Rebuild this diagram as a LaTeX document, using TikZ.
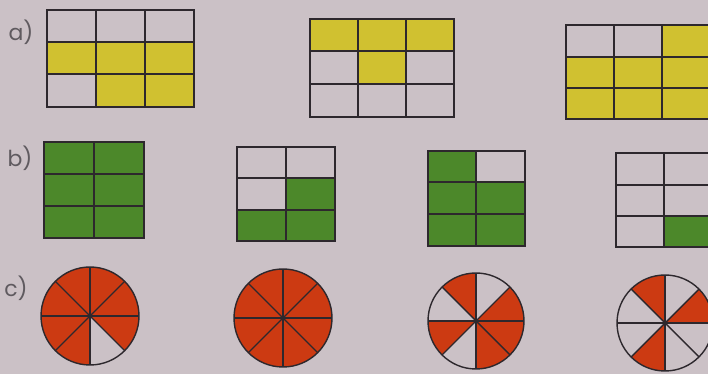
\documentclass[tikz,border=0pt]{standalone}
\usepackage{fontspec}
\setmainfont{Poppins}
\usepackage{tikz}
\usetikzlibrary{positioning}

\definecolor{paper}{RGB}{203,193,198}
\definecolor{ink}{RGB}{45,40,45}
\definecolor{labelgray}{RGB}{95,90,95}
\definecolor{yel}{RGB}{208,193,48}
\definecolor{grn}{RGB}{76,136,42}
\definecolor{orng}{RGB}{204,58,18}

\tikzset{
  gridline/.style={draw=ink, line width=1.8pt},
  yelcell/.style={fill=yel},
  grncell/.style={fill=grn},
  redslice/.style={fill=orng},
  partlabel/.style={text=labelgray, font=\fontsize{22}{24}\selectfont, inner sep=0pt}
}

\begin{document}
\begin{tikzpicture}[x=1pt, y=1pt]

\fill[paper] (0,0) rectangle (708,374);
\useasboundingbox (0,0) rectangle (708,374);
\clip (0,0) rectangle (708,374);

\node[partlabel] (lbla) at (21,342) {a)};
\node[partlabel] (lblb) at (20,216) {b)};
\node[partlabel] (lblc) at (16,86) {c)};

% a) yellow grids
\fill[yelcell] (47,300) rectangle (194,332);
\fill[yelcell] (96,267) rectangle (194,300);
\draw[gridline] (47,267) rectangle (194,364);
\draw[gridline] (96,267) -- (96,364) (145,267) -- (145,364)
                (47,300) -- (194,300) (47,332) -- (194,332);

\fill[yelcell] (310,323) rectangle (454,355);
\fill[yelcell] (358,290) rectangle (406,323);
\draw[gridline] (310,257) rectangle (454,355);
\draw[gridline] (358,257) -- (358,355) (406,257) -- (406,355)
                (310,290) -- (454,290) (310,323) -- (454,323);

\fill[yelcell] (662,317) rectangle (712,349);
\fill[yelcell] (566,255) rectangle (712,317);
\draw[gridline] (566,255) rectangle (712,349);
\draw[gridline] (614,255) -- (614,349) (662,255) -- (662,349)
                (566,286) -- (712,286) (566,317) -- (712,317);

% b) green grids
\fill[grncell] (44,136) rectangle (144,232);
\draw[gridline] (44,136) rectangle (144,232);
\draw[gridline] (94,136) -- (94,232)
                (44,168) -- (144,168) (44,200) -- (144,200);

\fill[grncell] (286,164) rectangle (335,196);
\fill[grncell] (237,133) rectangle (335,164);
\draw[gridline] (237,133) rectangle (335,227);
\draw[gridline] (286,133) -- (286,227)
                (237,164) -- (335,164) (237,196) -- (335,196);

\fill[grncell] (428,128) rectangle (476,223);
\fill[grncell] (476,128) rectangle (525,192);
\draw[gridline] (428,128) rectangle (525,223);
\draw[gridline] (476,128) -- (476,223)
                (428,160) -- (525,160) (428,192) -- (525,192);

\fill[grncell] (664,127) rectangle (713,158);
\draw[gridline] (616,127) rectangle (713,221);
\draw[gridline] (664,127) -- (664,221)
                (616,158) -- (713,158) (616,189) -- (713,189);

% c) circles
\coordinate (ca) at (90,58);
\coordinate (cb) at (283,56);
\coordinate (cc) at (476,53);
\coordinate (cd) at (665,51);

\foreach \a in {0,45,90,135,180,225,315}
  \fill[redslice] (ca) -- ++(\a:49) arc[start angle=\a, delta angle=45, radius=49] -- cycle;
\foreach \a in {0,45,...,315}
  \fill[redslice] (cb) -- ++(\a:49) arc[start angle=\a, delta angle=45, radius=49] -- cycle;
\foreach \a in {0,90,180,270,315}
  \fill[redslice] (cc) -- ++(\a:48) arc[start angle=\a, delta angle=45, radius=48] -- cycle;
\foreach \a in {0,90,225}
  \fill[redslice] (cd) -- ++(\a:48) arc[start angle=\a, delta angle=45, radius=48] -- cycle;

\foreach \c/\r in {ca/49, cb/49, cc/48, cd/48} {
  \draw[gridline, line width=1.4pt] (\c) circle[radius=\r];
  \foreach \a in {0,45,90,135}
    \draw[gridline, line width=1.4pt] (\c) ++(\a:\r) -- ++(\a+180:2*\r);
  \fill[ink] (\c) circle[radius=2.5];
}

\end{tikzpicture}
\end{document}
